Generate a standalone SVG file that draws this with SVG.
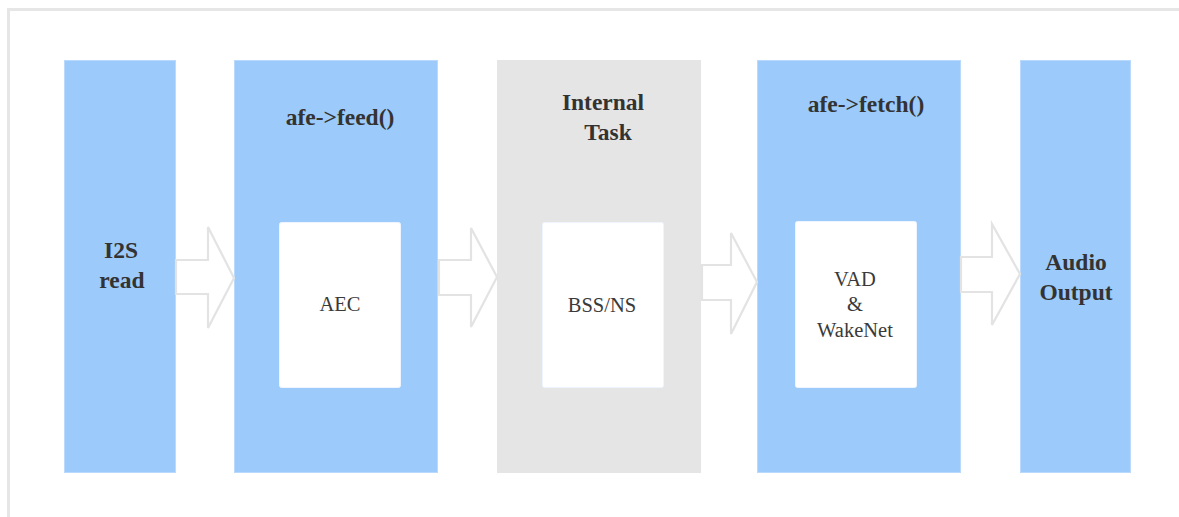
<svg xmlns="http://www.w3.org/2000/svg" width="1179" height="517" viewBox="0 0 1179 517">
<style>
.blue{fill:#9ccbfb;stroke:#b9dafd;stroke-width:1}
.gray{fill:#e5e5e5}
.inner{fill:#ffffff;stroke:#eef5ff;stroke-width:1}
.title{font-family:"Liberation Serif",serif;font-weight:bold;font-size:23.5px;fill:#333333;text-anchor:middle}
.lbl{font-family:"Liberation Serif",serif;font-size:20.5px;fill:#3a3a3a;text-anchor:middle}
.arrow{fill:#ffffff;stroke:#e3e3e3;stroke-width:2.2;stroke-linejoin:miter}
</style>
<rect x="0" y="0" width="1179" height="517" fill="#ffffff"/>
<path d="M8.5 517 V9.5 H1179" fill="none" stroke="#e6e6e6" stroke-width="3"/>
<g id="i2s">
<rect class="blue" x="64.5" y="60.5" width="111" height="412"/>
<text class="title" x="121" y="258">I2S</text>
<text class="title" x="122" y="288">read</text>
</g>
<g id="feed">
<rect class="blue" x="234.5" y="60.5" width="203" height="412"/>
<text class="title" x="340" y="125">afe-&gt;feed()</text>
<rect class="inner" x="279.5" y="222.5" width="121" height="165" rx="2"/>
<text class="lbl" x="340" y="311">AEC</text>
</g>
<g id="internal">
<rect class="gray" x="497" y="60" width="204" height="413"/>
<text class="title" x="603" y="110">Internal</text>
<text class="title" x="608" y="140">Task</text>
<rect class="inner" x="542.5" y="222.5" width="121" height="165" rx="2"/>
<text class="lbl" x="602" y="312">BSS/NS</text>
</g>
<g id="fetch">
<rect class="blue" x="757.5" y="60.5" width="203" height="412"/>
<text class="title" x="866" y="112">afe-&gt;fetch()</text>
<rect class="inner" x="795.5" y="221.5" width="121" height="166" rx="2"/>
<text class="lbl" x="855" y="286">VAD</text>
<text class="lbl" x="855" y="311">&amp;</text>
<text class="lbl" x="855" y="337">WakeNet</text>
</g>
<g id="output">
<rect class="blue" x="1020.5" y="60.5" width="110" height="412"/>
<text class="title" x="1076" y="270">Audio</text>
<text class="title" x="1076" y="300">Output</text>
</g>
<g id="connectors">
<polygon class="arrow" points="176,260 208,260 208,227 234,278 208,328 208,294 176,294"/>
<polygon class="arrow" points="439,260 471,260 471,228 497,277 471,327 471,295 439,295"/>
<polygon class="arrow" points="702,265 731,265 731,233 757,282 731,334 731,300 702,300"/>
<polygon class="arrow" points="961,257 992,257 992,224 1020,274 992,325 992,292 961,292"/>
</g>
</svg>
